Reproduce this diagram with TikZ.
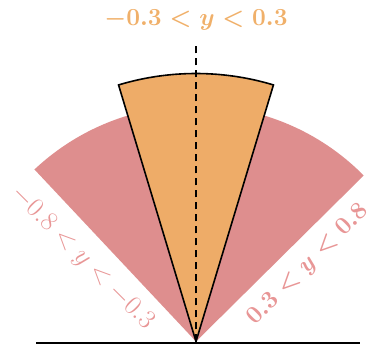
\documentclass[tikz,border=0pt]{standalone}
\usepackage{fix-cm}
\definecolor{orfill}{RGB}{238,172,104}
\definecolor{pkfill}{RGB}{222,142,142}
\definecolor{ortext}{RGB}{240,176,106}
\definecolor{pktext}{RGB}{232,150,150}
\tikzset{
  lbl/.style={inner sep=0pt, font=\fontsize{27}{30}\selectfont},
  blbl/.style={inner sep=0pt, font=\fontsize{24.5}{28}\selectfont\boldmath},
}
\begin{document}
\begin{tikzpicture}[x=1pt,y=1pt]
\useasboundingbox (0,0) rectangle (378,344);
\coordinate (O) at (196,2.5);
\fill[pkfill] (O) -- ++(44.7:236) arc[start angle=44.7,end angle=133.2,radius=236] -- cycle;
\filldraw[fill=orfill,draw=black,line width=1.6pt,line join=miter] (O) -- ++(73.2:268) arc[start angle=73.2,end angle=106.8,radius=268] -- cycle;
\coordinate (T) at (196,299);
\draw[black,line width=1.5pt,dash pattern=on 7pt off 5pt] (O) -- (T);
\coordinate (BL) at (36,1.2);
\coordinate (BR) at (360,1.2);
\draw[black,line width=2.4pt] (BL) -- (BR);
\node[blbl,text=ortext] (labtop) at (196,324) {$-0.3<y<0.3$};
\node[lbl,text=pktext,rotate=-45] (lableft) at (82,86) {$-0.8<y<-0.3$};
\node[blbl,text=pktext,rotate=45] (labright) at (308,79) {$0.3<y<0.8$};
\end{tikzpicture}
\end{document}
